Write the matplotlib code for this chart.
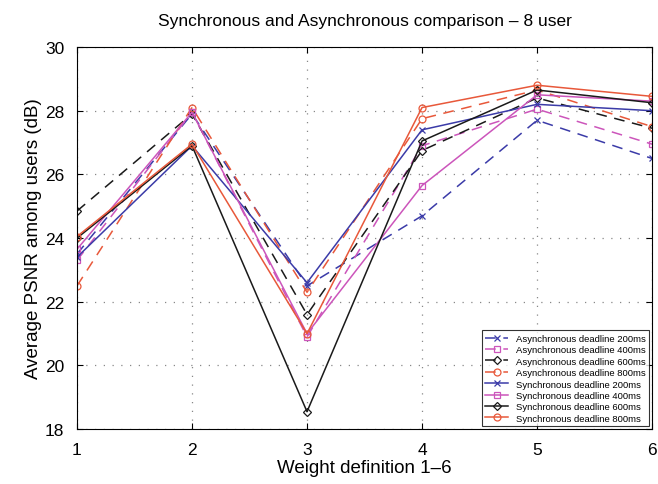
import matplotlib
matplotlib.use('Agg')
import matplotlib.pyplot as plt

plt.rcParams['font.family'] = ['Liberation Sans', 'DejaVu Sans']

weights = [1, 2, 3, 4, 5, 6]

async_200 = [23.5, 27.9, 22.5, 24.7, 27.7, 26.5]
async_400 = [23.3, 27.95, 20.9, 26.9, 28.05, 26.95]
async_600 = [24.85, 27.9, 21.6, 26.75, 28.4, 27.45]
async_800 = [22.5, 28.1, 22.3, 27.75, 28.65, 27.5]
sync_200 = [23.4, 26.9, 22.6, 27.4, 28.2, 28.0]
sync_400 = [23.65, 27.95, 21.0, 25.65, 28.5, 28.3]
sync_600 = [24.0, 26.9, 18.55, 27.05, 28.65, 28.25]
sync_800 = [24.05, 26.95, 21.0, 28.1, 28.8, 28.45]

blue = '#3b3ba8'
pink = '#cc55bb'
black = '#1a1a1a'
orange = '#e8583a'

series = [
    ('Asynchronous deadline 200ms', async_200, blue, 'x', (0, (7, 5))),
    ('Asynchronous deadline 400ms', async_400, pink, 's', (0, (7, 5))),
    ('Asynchronous deadline 600ms', async_600, black, 'D', (0, (7, 5))),
    ('Asynchronous deadline 800ms', async_800, orange, 'o', (0, (7, 5))),
    ('Synchronous deadline 200ms', sync_200, blue, 'x', '-'),
    ('Synchronous deadline 400ms', sync_400, pink, 's', '-'),
    ('Synchronous deadline 600ms', sync_600, black, 'D', '-'),
    ('Synchronous deadline 800ms', sync_800, orange, 'o', '-'),
]

fig = plt.figure(figsize=(6.58, 4.85), dpi=100)
ax = fig.add_axes([0.117, 0.113, 0.874, 0.788])

for label, vals, color, marker, ls in series:
    ms = 4 if marker == 'D' else 5
    ax.plot(weights, vals, color=color, linestyle=ls, linewidth=1.1,
            marker=marker, markersize=ms, markerfacecolor='none',
            markeredgecolor=color, markeredgewidth=0.9, label=label)

ax.set_xlim(1, 6)
ax.set_ylim(18, 30)
ax.set_xticks(weights)
ax.set_yticks([18, 20, 22, 24, 26, 28, 30])
ax.tick_params(direction='in', labelsize=12.5, length=4, pad=9, top=True, right=True)
ax.grid(True, linestyle=(0, (1, 6)), color='#888888', linewidth=0.9)
for sp in ax.spines.values():
    sp.set_linewidth(0.8)

ax.set_title('Synchronous and Asynchronous comparison \u2013 8 user', fontsize=12.5, pad=16)
ax.set_xlabel('Weight definition 1\u20136', fontsize=13.5, labelpad=2)
ax.set_ylabel('Average PSNR among users (dB)', fontsize=13.5, labelpad=2)

leg = ax.legend(loc='lower right', fontsize=6.8, frameon=True, fancybox=False,
                edgecolor='black', handlelength=2.4, labelspacing=0.25,
                borderaxespad=0.3, numpoints=1)
leg.get_frame().set_linewidth(0.8)

fig.savefig('out.png', dpi=100)
